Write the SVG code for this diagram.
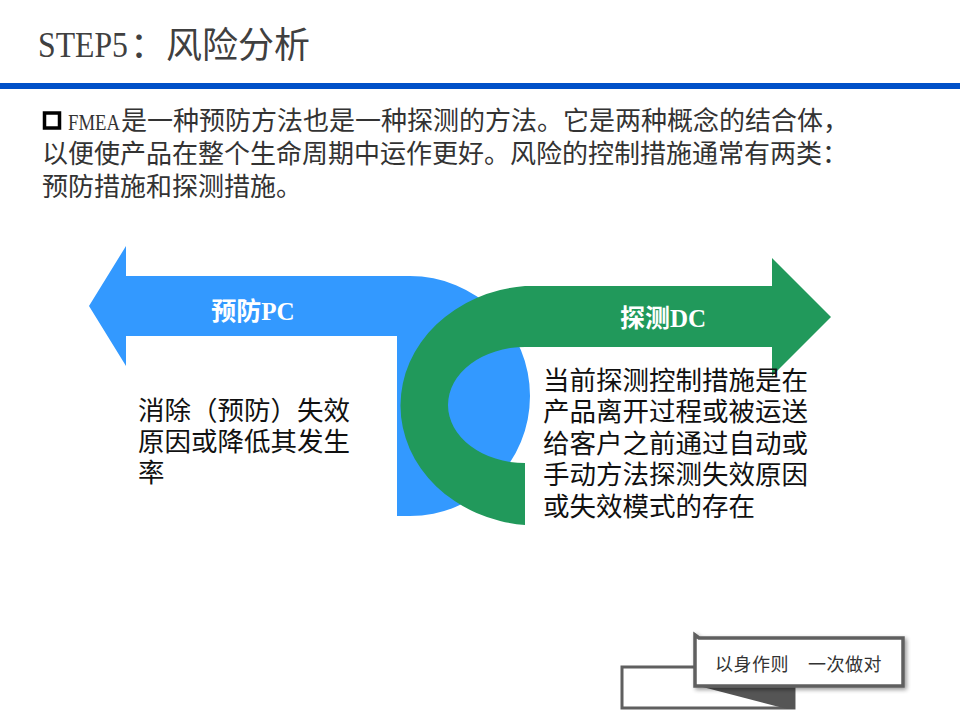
<svg xmlns="http://www.w3.org/2000/svg" width="960" height="720" viewBox="0 0 960 720">
<style>
.serif{font-family:"Liberation Serif","Noto Sans CJK SC",serif}
.sans{font-family:"Noto Sans CJK SC","Liberation Sans",sans-serif}
.body{font-size:26.5px;fill:#111}
.para{font-size:26px;fill:#333}
.lbl{font-size:25px;font-weight:bold;fill:#fff}
</style>
<defs>
<filter id="sh" x="-10%" y="-20%" width="130%" height="150%">
<feGaussianBlur in="SourceAlpha" stdDeviation="2"/>
<feOffset dx="2" dy="2" result="b"/>
<feComponentTransfer><feFuncA type="linear" slope="0.4"/></feComponentTransfer>
<feMerge><feMergeNode/><feMergeNode in="SourceGraphic"/></feMerge>
</filter>
</defs>
<rect width="960" height="720" fill="#fff"/>
<g id="header">
<text x="38" y="57" class="serif" fill="#404040"><tspan font-size="36" textLength="90" lengthAdjust="spacingAndGlyphs">STEP5</tspan><tspan x="130" y="58" font-size="36">：风险分析</tspan></text>
<rect x="0" y="83" width="960" height="6" fill="#0050C8"/>
</g>
<g id="intro" class="serif para">
<rect x="44.5" y="113" width="15" height="15" fill="#fff" stroke="#000" stroke-width="3.5"/>
<text x="68" y="130"><tspan font-size="24" textLength="52" lengthAdjust="spacingAndGlyphs">FMEA</tspan><tspan x="121">是一种预防方法也是一种探测的方法。它是两种概念的结合体，</tspan></text>
<text x="42" y="163">以便使产品在整个生命周期中运作更好。风险的控制措施通常有两类：</text>
<text x="42" y="196">预防措施和探测措施。</text>
</g>
<g id="connectors">
<g id="pc-arrow">
<path d="M89,306 L126,246 L126,276 L410,276 A120,120 0 0 1 410,516 L397,516 L397,336 L126,336 L126,366 Z" fill="#3399FF"/>
<text x="253" y="320" text-anchor="middle" class="serif lbl">预防PC</text>
</g>
<g id="dc-arrow">
<path d="M525,286 L772,286 L772,258 L831,317 L772,376 L772,347 L525,347 A77,58 0 0 0 525,463 L525,525 A137,120 0 0 1 525,286 Z" fill="#21995B"/>
<text x="663" y="327" text-anchor="middle" class="serif lbl">探测DC</text>
</g>
</g>
<g id="pc-text" class="sans body">
<text x="138" y="420">消除（预防）失效</text>
<text x="138" y="451">原因或降低其发生</text>
<text x="138" y="482">率</text>
</g>
<g id="dc-text" class="sans body">
<text x="543" y="390">当前探测控制措施是在</text>
<text x="543" y="421">产品离开过程或被运送</text>
<text x="543" y="453">给客户之前通过自动或</text>
<text x="543" y="484">手动方法探测失效原因</text>
<text x="543" y="516">或失效模式的存在</text>
</g>
<g id="badge">
<path d="M695,667 L622,667 L622,708 L794,708 L794,686" fill="none" stroke="#5f5f5f" stroke-width="3"/>
<path d="M695,685 L795,685 L795,709 L787,709 Z" fill="#555"/>
<g filter="url(#sh)">
<path d="M695,635 L699,638 L903,638 L903,686 L695,686 Z" fill="#fff" stroke="#5f5f5f" stroke-width="3.5"/>
</g>
<text x="715" y="671" class="sans" font-size="18" fill="#333" letter-spacing="0.5">以身作则</text>
<text x="808" y="671" class="sans" font-size="18" fill="#333" letter-spacing="0.5">一次做对</text>
</g>
</svg>
